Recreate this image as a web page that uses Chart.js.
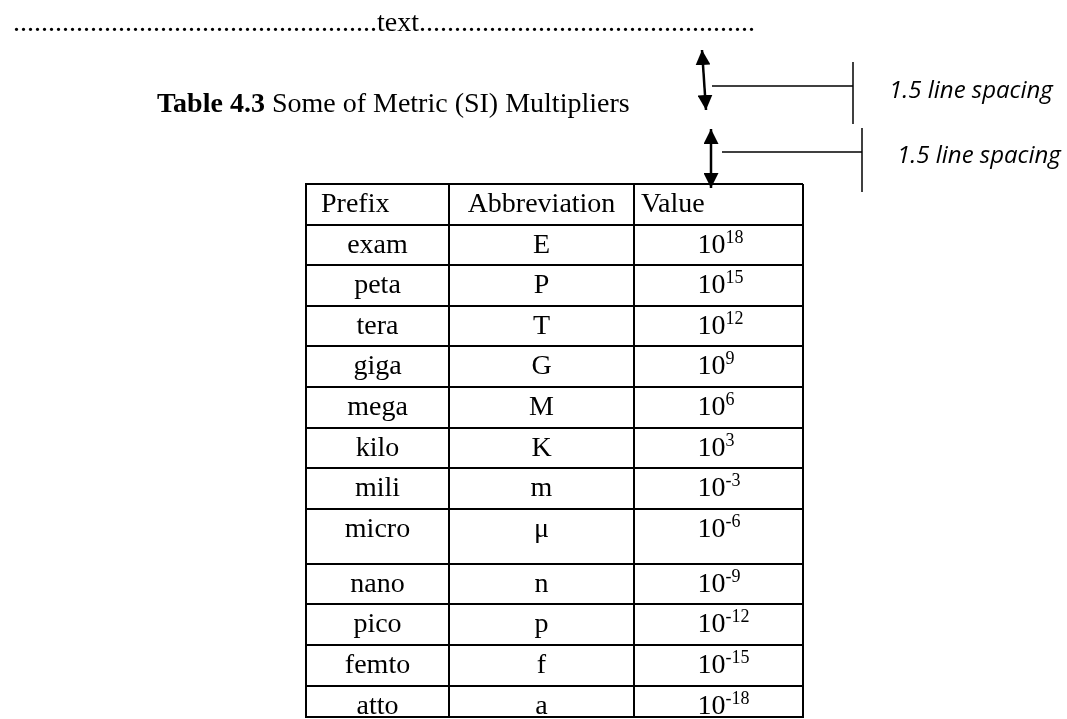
<!DOCTYPE html>
<html>
<head>
<meta charset="utf-8">
<script src="https://cdn.jsdelivr.net/npm/chart.js@4.4.1/dist/chart.umd.min.js"></script>
<style>
  body { margin: 0; background: #fff; }
  #page { position: relative; width: 1067px; height: 719px; overflow: hidden; background: #fff; }
  #table-chart { position: absolute; left: 0; top: 0; }
  .serif { position: absolute; white-space: nowrap; color: #000; font-family: "Liberation Serif", "Times New Roman", serif; font-size: 28px; line-height: 28px; }
  .note { position: absolute; white-space: nowrap; color: #000; font-family: "Open Sans", sans-serif; font-style: italic; font-size: 24px; line-height: 24px; }
  #marks { position: absolute; left: 0; top: 0; }
</style>
</head>
<body>
<div id="page">
  <canvas id="table-chart" width="1067" height="719"></canvas>
  <div class="serif" id="dots" style="left:13px; top:8px"></div>
  <div class="serif" style="left:157px; top:89px"><b>Table 4.3</b> Some of Metric (SI) Multipliers</div>
  <div class="note" style="left:889px; top:77px">1.5 line spacing</div>
  <div class="note" style="left:897px; top:142px">1.5 line spacing</div>
  <svg id="marks" width="1067" height="719">
    <defs>
      <marker id="head" viewBox="0 0 10 10" refX="10" refY="5" markerWidth="6" markerHeight="6" orient="auto-start-reverse">
        <path d="M0,0 L10,5 L0,10 z" fill="#000"/>
      </marker>
    </defs>
    <line x1="702" y1="50" x2="706" y2="110" stroke="#000" stroke-width="2.5" marker-start="url(#head)" marker-end="url(#head)"/>
    <line x1="712" y1="86" x2="853" y2="86" stroke="#000" stroke-width="1.5"/>
    <line x1="853" y1="62" x2="853" y2="124" stroke="#000" stroke-width="1.5"/>
    <line x1="711" y1="129" x2="711" y2="188" stroke="#000" stroke-width="2.5" marker-start="url(#head)" marker-end="url(#head)"/>
    <line x1="722" y1="152" x2="862" y2="152" stroke="#000" stroke-width="1.5"/>
    <line x1="862" y1="128" x2="862" y2="192" stroke="#000" stroke-width="1.5"/>
  </svg>
</div>
<script>
// table contents
const headers = ['Prefix', 'Abbreviation', 'Value']
const prefixes = ['exam', 'peta', 'tera', 'giga', 'mega', 'kilo', 'mili', 'micro', 'nano', 'pico', 'femto', 'atto']
const abbreviations = ['E', 'P', 'T', 'G', 'M', 'K', 'm', 'μ', 'n', 'p', 'f', 'a']
const exponents = ['18', '15', '12', '9', '6', '3', '-3', '-6', '-9', '-12', '-15', '-18']

document.getElementById('dots').textContent = '.'.repeat(52) + 'text' + '.'.repeat(48)

// layout of the table (scale units)
const colWidths = [143, 185, 169]
const tallRow = 'micro'
const tallRowHeight = 1.355
const visibleRows = 13.13

const colEdges = [0]
colWidths.forEach(w => colEdges.push(colEdges[colEdges.length - 1] + w))

const rowTops = [0]
const allRows = ['header', ...prefixes]
allRows.forEach(r => rowTops.push(rowTops[rowTops.length - 1] + (r === tallRow ? tallRowHeight : 1)))

const serif = '"Liberation Serif", "Times New Roman", serif'

const cellText = {
   id: 'cellText',
   afterDraw(chart) {
      const { ctx, scales: { x, y } } = chart
      const colLeft = i => x.getPixelForValue(colEdges[i])
      const colMid = i => x.getPixelForValue((colEdges[i] + colEdges[i + 1]) / 2)
      const baseline = i => y.getPixelForValue(rowTops[i]) + 28

      ctx.save()
      ctx.fillStyle = '#000'
      ctx.textBaseline = 'alphabetic'
      ctx.font = '28px ' + serif

      // header row
      ctx.textAlign = 'left'
      ctx.fillText(headers[0], colLeft(0) + 15, baseline(0))
      ctx.textAlign = 'center'
      ctx.fillText(headers[1], colMid(1), baseline(0))
      ctx.textAlign = 'left'
      ctx.fillText(headers[2], colLeft(2) + 7, baseline(0))

      prefixes.forEach((p, i) => {
         const by = baseline(i + 1)
         ctx.font = '28px ' + serif
         ctx.textAlign = 'center'
         ctx.fillText(p, colMid(0), by)
         ctx.fillText(abbreviations[i], colMid(1), by)

         ctx.textAlign = 'left'
         const tx = colMid(2) - 21
         ctx.fillText('10', tx, by)
         const w = ctx.measureText('10').width
         ctx.font = '18px ' + serif
         ctx.fillText(exponents[i], tx + w, by - 10)
      })
      ctx.restore()
   }
}

const ctx = document.getElementById('table-chart')

const tableChart = new Chart(ctx, {
   type: 'scatter',
   data: {
      datasets: [{
         data: [],
         pointRadius: 0
      }]
   },
   options: {
      responsive: false,
      devicePixelRatio: 1,
      animation: false,
      events: [],
      layout: {
         padding: { left: 306, top: 184, right: 264, bottom: 2 }
      },
      plugins: {
         legend: { display: false },
         tooltip: { enabled: false }
      },
      scales: {
         x: {
            type: 'linear',
            min: 0,
            max: colEdges[colEdges.length - 1],
            afterBuildTicks: scale => { scale.ticks = colEdges.map(v => ({ value: v })) },
            ticks: { display: false },
            grid: { color: '#000', lineWidth: 2, drawTicks: false },
            border: { display: true, color: '#000', width: 2 }
         },
         y: {
            type: 'linear',
            reverse: true,
            min: 0,
            max: visibleRows,
            afterBuildTicks: scale => { scale.ticks = rowTops.filter(v => v <= visibleRows).map(v => ({ value: v })) },
            ticks: { display: false },
            grid: { color: '#000', lineWidth: 2, drawTicks: false },
            border: { display: true, color: '#000', width: 2 }
         }
      }
   },
   plugins: [cellText]
})
</script>
</body>
</html>
